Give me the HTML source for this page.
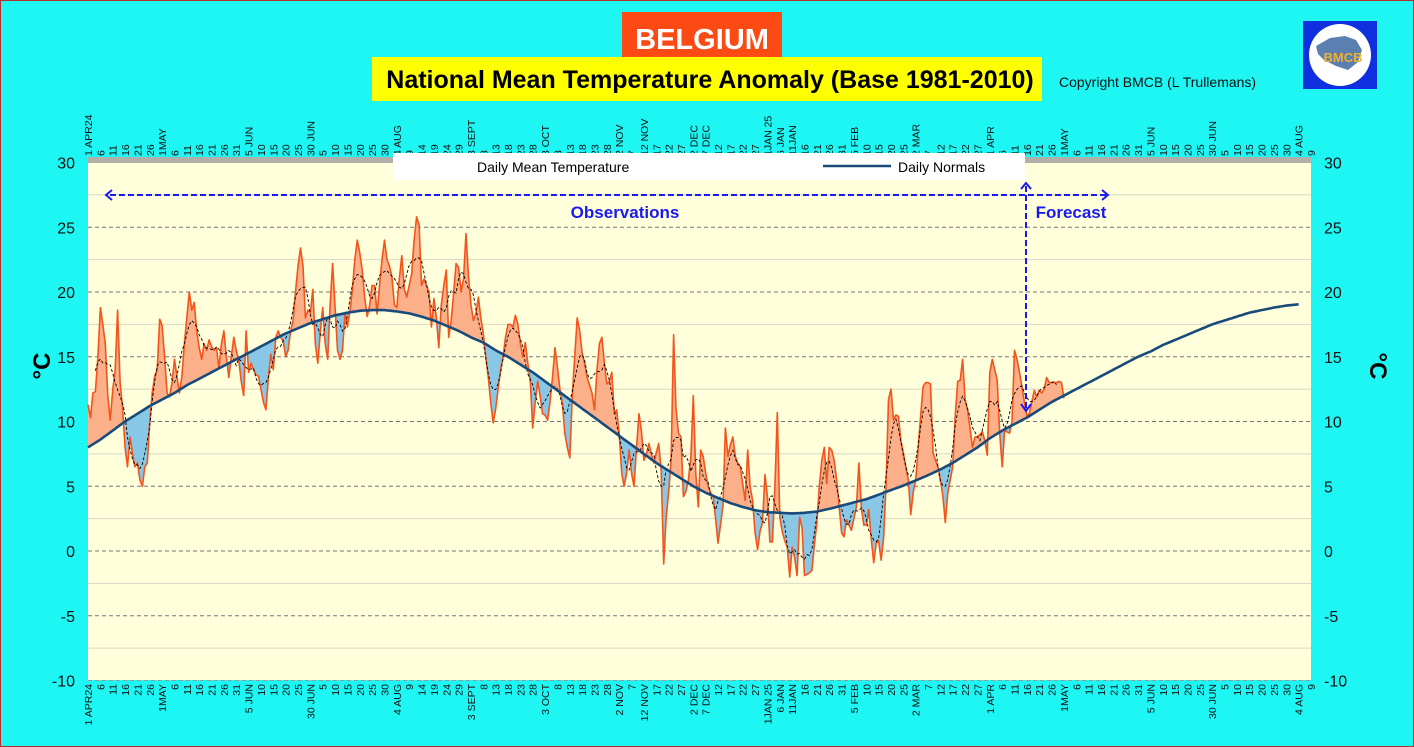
<!DOCTYPE html>
<html><head><meta charset="utf-8"><style>
html,body{margin:0;padding:0;}
body{width:1414px;height:747px;overflow:hidden;background:#1ef6f4;font-family:"Liberation Sans",sans-serif;}
svg{display:block;}
</style></head><body>
<svg id="chart" width="1414" height="747" viewBox="0 0 1414 747" xmlns="http://www.w3.org/2000/svg">
<rect x="0.5" y="0.5" width="1413" height="746" fill="#1ef6f4" stroke="#b03030"/>
<rect x="622" y="12" width="160" height="45" fill="#fb4a14"/>
<text x="702" y="49" text-anchor="middle" font-size="29" font-weight="bold" fill="#fff">BELGIUM</text>
<rect x="372" y="57" width="670" height="44" fill="#ffff00"/>
<text x="710" y="88" text-anchor="middle" font-size="25" font-weight="bold" fill="#000">National Mean Temperature Anomaly (Base 1981-2010)</text>
<text x="1059" y="87" font-size="14" fill="#111">Copyright BMCB (L Trullemans)</text>
<g>
<rect x="1303" y="21" width="74" height="68" fill="#1030e0"/>
<circle cx="1340" cy="55" r="31" fill="#fff"/>
<path d="M1316 46 L1330 38 L1345 36 L1356 40 L1362 50 L1358 62 L1348 70 L1336 66 L1324 60 L1318 54Z" fill="#5a7fb0"/>
<text x="1343" y="62" text-anchor="middle" font-size="13" font-weight="bold" fill="#f0b030">BMCB</text>
</g>
<rect x="88" y="157" width="1223" height="6" fill="#b0b0a8"/>
<rect x="88" y="163" width="1223" height="517" fill="#ffffdb"/>
<g id="grid"></g>
<g id="series"></g>
<g id="axes"></g>
<g>
<rect x="393" y="153" width="632" height="27" fill="#fff"/>
<text x="477" y="172" font-size="14" fill="#000">Daily Mean Temperature</text>
<line x1="823" y1="166" x2="891" y2="166" stroke="#1a4a7a" stroke-width="2.5"/>
<text x="898" y="172" font-size="14" fill="#000">Daily Normals</text>
</g>
<g stroke="#1a1aee" fill="none" stroke-width="2">
<line x1="110" y1="195" x2="1106" y2="195" stroke-dasharray="6,3"/>
<polyline points="112,190 106,195 112,200"/>
<polyline points="1102,190 1108,195 1102,200"/>
<line x1="1026" y1="186" x2="1026" y2="408" stroke-dasharray="6,3"/>
<polyline points="1021,189 1026,183 1031,189"/>
<polyline points="1021,404 1026,411 1031,404"/>
</g>
<text x="625" y="218" text-anchor="middle" font-size="17" font-weight="bold" fill="#1a1aee">Observations</text>
<text x="1071" y="218" text-anchor="middle" font-size="17" font-weight="bold" fill="#1a1aee">Forecast</text>
<text transform="translate(50,366) rotate(-90)" text-anchor="middle" font-size="24" font-weight="bold" fill="#000">°C</text>
<text transform="translate(1370,366) rotate(90)" text-anchor="middle" font-size="24" font-weight="bold" fill="#000">°C</text>
</svg>
<script>
const temps=[11.3,10.3,12.2,12.3,15,18.8,17.5,16,12,10.1,12.4,14,18.6,13,11,8,6.5,8.8,7.5,6.5,6.8,5.5,5.0,6.5,6.8,10,12.2,13.5,14,17.9,17.4,15,12.2,11.9,13,14.8,13.5,12.2,13.5,16,18,20,18.6,19.2,17,15.7,14.8,16,15.5,16.3,15.8,15.5,15.7,14.1,16,17,15,13.4,15,16.5,15.5,14.8,13.1,12,17,13.8,14.5,14,13.6,13.5,12.5,11.5,10.9,13.4,15.2,14,16.5,17,16.5,16.2,15,15.5,17,17.8,20,22,23.4,22,18,18.6,18.4,20.2,16,14.5,16.8,18.8,16,14.8,19,22.2,18.8,15.5,14.8,15.5,18.4,17.3,18.5,20.2,22.5,24,23,21.7,19.6,18.1,19,20.5,20.5,18.3,20.5,22.5,24,22.5,22,21.2,19,18.8,21,22.8,20.2,19.6,20.5,21.4,24,25.8,25.2,20.5,21,20.5,20,17.3,19.5,18,15.7,19,20.5,21.7,16.5,17.8,20,22.2,21.9,20,21,24.5,21.2,19,17.8,18.3,19.6,18,16.8,15,13.4,11.5,9.9,11,12.5,14,15,16.5,17.5,17.5,17.3,18.2,17.5,16,15,16.1,14.5,13.1,9.5,11.5,13.1,12,10.6,10.5,10.1,11.5,13.4,15.7,14.2,12.5,11.4,9.1,8,7.2,12,15,18,17,15.3,14.5,13.4,12.8,12.2,10.9,14,16,16.5,14.5,12.9,13.1,13.8,10.6,10.9,9.1,6,5,6,7.8,6,5,8,10.6,9.3,7,7.5,8.3,7.5,6.8,7.6,8.3,6.2,-1,2.5,4.5,7,16.7,11,9.1,8.8,4.2,4.6,5.5,7.3,12,6,3.4,7.8,7.3,6,5,4.5,4.2,2.5,0.6,2,3.5,9.5,7.3,8.2,8.8,7.3,6.8,6.5,5.2,3.9,7.8,5,3.9,1.4,0.1,1.5,2.2,5.9,4.2,0.7,0.7,5,10.7,2.6,1.5,0.8,0.3,-2,0.3,-0.5,-1.9,2.6,1.8,-1.9,-1.8,-1.7,-1.5,0.5,2.2,5,7,8,5.2,8,7.8,7,5.5,3.5,1.4,1.1,2.4,2,1.6,2.5,3.4,6.8,3.4,2,2,3.2,1,-0.9,0.6,0.8,-0.7,1,5,11.7,12.5,10.1,10.5,10.4,8.5,7.6,6.5,5.5,2.8,4.5,5.5,8,10.4,12.7,13,13,12.9,7.6,7,6.5,5.5,4.2,2.2,4.5,5.5,6.5,10.4,13.1,13.2,14.8,11.7,10.9,9.5,8,8.8,8.8,9,9.2,8.5,7.4,13.8,14.8,14,13.2,9.1,6.5,9.3,9.2,9.1,10,15.5,14.8,13.8,12.7,11.5,10.4,10.6,11.5,12.4,11.9,12.4,12.2,12.5,13.4,13,13,13,13,13.1,13,11.8];
const normals=[8.0,8.6,9.3,10.0,10.6,11.2,11.7,12.2,12.8,13.3,13.8,14.3,14.8,15.3,15.8,16.3,16.8,17.2,17.6,17.9,18.2,18.4,18.55,18.6,18.6,18.5,18.35,18.1,17.8,17.4,17.0,16.5,16.1,15.5,15.0,14.4,13.8,13.1,12.4,11.7,11.0,10.3,9.6,8.9,8.2,7.5,6.8,6.2,5.6,5.0,4.5,4.1,3.7,3.4,3.15,3.0,2.95,2.9,2.95,3.05,3.25,3.5,3.75,4.0,4.35,4.7,5.05,5.45,5.85,6.3,6.8,7.4,8.0,8.7,9.3,9.8,10.3,10.9,11.5,12.0,12.5,13.0,13.5,14.0,14.5,15.0,15.4,15.9,16.3,16.7,17.1,17.5,17.8,18.1,18.4,18.6,18.8,18.95,19.05];
const tickLabels=["1 APR24","6","11","16","21","26","1MAY","6","11","16","21","26","31","5 JUN","10","15","20","25","30 JUN","5","10","15","20","25","30","4 AUG","9","14","19","24","29","3 SEPT","8","13","18","23","28","3 OCT","8","13","18","23","28","2 NOV","7","12 NOV","17","22","27","2 DEC","7 DEC","12","17","22","27","1JAN 25","6 JAN","11JAN","16","21","26","31","5 FEB","10","15","20","25","2 MAR","7","12","17","22","27","1 APR","6","11","16","21","26","1MAY","6","11","16","21","26","31","5 JUN","10","15","20","25","30 JUN","5","10","15","20","25","30","4 AUG","9"];
const yTicks=[30,25,20,15,10,5,0,-5,-10];
const tickStep=5;
const NS="http://www.w3.org/2000/svg";
const X0=88,DX=1223/495,Y0=551,DY=12.95;
function xs(d){return X0+d*DX;}
function ys(t){return Y0-t*DY;}
function mk(tag,attrs,parent){const e=document.createElementNS(NS,tag);for(const k in attrs)e.setAttribute(k,attrs[k]);parent.appendChild(e);return e;}
function normalAt(d){const k=d/tickStep,i=Math.min(Math.floor(k),normals.length-2),f=k-i;return normals[i]*(1-f)+normals[i+1]*f;}
const grid=document.getElementById('grid'),series=document.getElementById('series'),axes=document.getElementById('axes');
for(let v=-7.5;v<30;v+=5){const l=mk('line',{x1:88,x2:1311,y1:ys(v),y2:ys(v),stroke:'#d8d8c8','stroke-width':1},grid);

}
yTicks.forEach(v=>{if(v===30)return;const l=mk('line',{x1:88,x2:1311,y1:ys(v),y2:ys(v),stroke:v===-10?'#999':'#777','stroke-width':1,'stroke-dasharray':'4,3'},grid);

});
yTicks.forEach(v=>{const a=mk('text',{x:75,y:ys(v)+6,'text-anchor':'end','font-size':16,fill:'#111'},axes);a.textContent=v;


const b=mk('text',{x:1324,y:ys(v)+6,'font-size':16,fill:'#111'},axes);b.textContent=v;

});
tickLabels.forEach((s,i)=>{const x=xs(i*tickStep)+4;
const t=mk('text',{transform:`translate(${x},156) rotate(-90)`,'font-size':10.5,fill:'#111'},axes);t.textContent=s;


const b=mk('text',{transform:`translate(${x},684) rotate(-90)`,'text-anchor':'end','font-size':10.5,fill:'#111'},axes);b.textContent=s;

});
const nDays=(normals.length-1)*tickStep;
let nPts=[];for(let d=0;d<=nDays;d++)nPts.push([xs(d),ys(normalAt(d))]);
const defs=mk('defs',{},series);
const cA=mk('clipPath',{id:'above'},defs);
mk('path',{d:'M'+xs(0)+',150 '+nPts.map(p=>'L'+p[0].toFixed(1)+','+p[1].toFixed(1)).join(' ')+' L'+xs(nDays)+',150Z'},cA);
const cB=mk('clipPath',{id:'below'},defs);
mk('path',{d:'M'+xs(0)+',700 '+nPts.map(p=>'L'+p[0].toFixed(1)+','+p[1].toFixed(1)).join(' ')+' L'+xs(nDays)+',700Z'},cB);
const tPts=temps.map((t,d)=>[xs(d),ys(t)]);
let poly=tPts.map(p=>p[0].toFixed(1)+','+p[1].toFixed(1));
for(let d=temps.length-1;d>=0;d--)poly.push(xs(d).toFixed(1)+','+ys(normalAt(d)).toFixed(1));
const fa=mk('polygon',{points:poly.join(' '),fill:'#fbb08a','clip-path':'url(#above)'},series);


const fb=mk('polygon',{points:poly.join(' '),fill:'#88c8e6','clip-path':'url(#below)'},series);


const tl=mk('polyline',{points:tPts.map(p=>p[0].toFixed(1)+','+p[1].toFixed(1)).join(' '),fill:'none',stroke:'#f2541b','stroke-width':1.6,'stroke-linejoin':'round'},series);


let ma=[];for(let d=3;d<temps.length-3;d++){let s=0;for(let j=-3;j<=3;j++)s+=temps[d+j];ma.push(xs(d).toFixed(1)+','+ys(s/7).toFixed(1));}
const ml=mk('polyline',{points:ma.join(' '),fill:'none',stroke:'#000','stroke-width':0.9,'stroke-dasharray':'3,2'},series);


const nl=mk('polyline',{points:nPts.map(p=>p[0].toFixed(1)+','+p[1].toFixed(1)).join(' '),fill:'none',stroke:'#1a4a7a','stroke-width':2.6},series);


</script>
</body></html>
